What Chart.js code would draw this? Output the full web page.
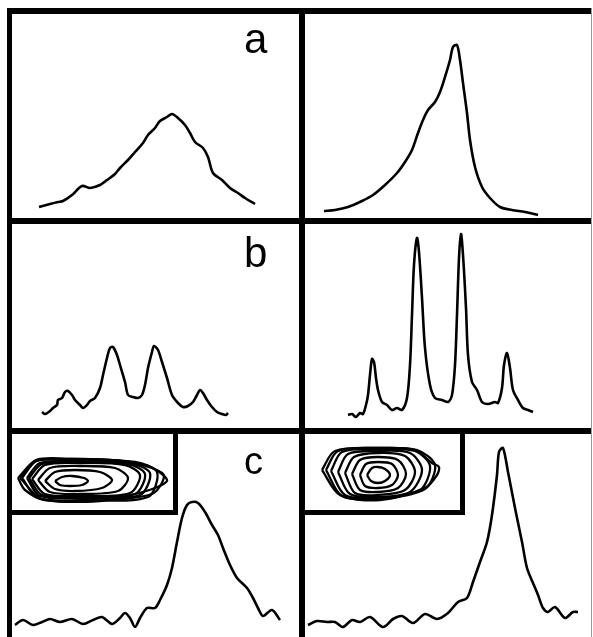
<!DOCTYPE html>
<html>
<head>
<meta charset="utf-8">
<script src="https://cdn.jsdelivr.net/npm/chart.js@4.4.0/dist/chart.umd.min.js"></script>
<style>
  html, body { margin: 0; padding: 0; background: #fff; }
  #fig { position: relative; width: 593px; height: 637px; overflow: hidden; }
  .panel { position: absolute; }
  .bar { position: absolute; background: #000; }
  .inset { position: absolute; background: #fff; }
  .label { position: absolute; font-family: "Liberation Sans", Arial, Helvetica, sans-serif; font-size: 42px; line-height: 1; color: #000; }
</style>
</head>
<body>
<div id="fig"></div>
<script>
// traces, [channel, counts] (counts above panel floor)
const traceA1 = [[27,11],[38,14],[46,16],[51,17],[60,23],[70,32],[78,30],[88,33],[95,38],[103,44],[108,50],[116,58],[123,66],[131,75],[136,83],[143,90],[148,97],[155,101],[160,104],[166,100],[173,93],[178,85],[183,76],[191,70],[196,61],[201,45],[210,38],[218,30],[226,25],[233,20],[243,14]];
const traceA2 = [[19,7],[30,8],[43,11],[57,17],[68,23],[80,33],[92,45],[100,56],[107,68],[113,85],[118,98],[123,108],[130,116],[135,126],[140,141],[145,158],[148,171],[152,173],[155,158],[158,135],[162,105],[165,78],[170,51],[177,31],[185,20],[195,11],[207,8],[220,6],[233,3]];
const traceB1 = [[30,16],[33,14],[38,17],[41,20],[45,23],[46,28],[50,30],[53,36],[56,37],[60,33],[63,28],[68,23],[71,20],[75,23],[78,27],[83,30],[88,40],[91,53],[95,70],[98,80],[101,81],[105,73],[108,63],[113,46],[116,33],[121,31],[126,30],[130,33],[133,43],[136,60],[140,76],[142,82],[146,78],[150,66],[155,50],[160,33],[166,25],[171,21],[176,22],[181,26],[185,33],[188,38],[191,35],[195,28],[200,21],[205,16],[210,14],[214,13],[216,15]];
const traceB2 = [[43,13],[47,14],[51,11],[55,15],[58,14],[61,23],[63,33],[65,53],[67,69],[69,66],[71,50],[73,38],[77,26],[82,23],[87,18],[92,20],[97,18],[102,30],[105,63],[107,113],[109,163],[112,190],[114,176],[117,130],[120,80],[125,43],[130,30],[137,28],[143,26],[147,33],[150,63],[152,113],[154,170],[156,194],[158,173],[161,120],[163,73],[167,46],[172,38],[177,26],[183,24],[190,26],[193,25],[197,40],[199,63],[202,75],[205,60],[208,38],[213,28],[218,20],[223,18],[228,16]];
const traceC1 = [[3,12],[11,17],[21,12],[30,15],[38,18],[48,15],[60,18],[71,13],[81,17],[90,20],[100,13],[108,19],[113,24],[118,19],[123,10],[128,19],[135,29],[143,29],[148,37],[155,52],[160,69],[165,95],[170,119],[175,132],[180,135],[186,134],[193,125],[200,112],[206,102],[211,89],[218,72],[225,59],[235,49],[241,39],[246,29],[251,21],[260,27],[268,17]];
const traceC2 = [[3,12],[12,16],[22,15],[30,15],[38,10],[47,17],[55,15],[65,20],[78,10],[88,18],[97,21],[108,14],[120,23],[132,18],[143,24],[153,35],[162,39],[168,55],[175,75],[182,95],[187,122],[192,162],[194,185],[198,189],[203,165],[210,129],[217,95],[222,69],[228,54],[233,42],[238,29],[243,25],[250,30],[260,19],[268,25],[273,25]];

// contour rings for the insets (inner -> outer)
const contoursC1 = [
  [[43,29],[50,33],[60,34],[72,32],[76,29],[70,25],[58,24],[48,25],[43,29]],
  [[33,29],[43,38],[63,40],[88,38],[100,30],[90,22],[63,19],[43,21],[33,29]],
  [[26,30],[38,42],[68,44],[103,42],[116,32],[106,19],[68,16],[38,18],[26,30]],
  [[20,31],[33,45],[68,47],[113,45],[128,35],[118,17],[73,14],[33,16],[20,31]],
  [[17,32],[30,46],[68,48],[116,46],[133,36],[123,16],[73,13],[30,15],[17,32]],
  [[15,32],[28,47],[68,49],[118,47],[138,37],[128,15],[73,12],[28,14],[15,32]],
  [[10,32],[25,49],[68,50],[123,48],[145,38],[136,13],[73,10],[26,12],[10,32]],
  [[8,32],[24,50],[60,51],[110,49],[140,42],[152,34],[140,16],[80,9],[30,11],[8,32]],
  [[6,32],[23,49],[48,51],[98,50],[133,45],[150,36],[155,29],[143,22],[123,16],[88,9],[33,10],[13,20],[6,32]]
];
const contoursC2 = [
  [[62,35],[67,42],[73,43],[80,41],[85,35],[80,29],[73,27],[66,29],[62,35]],
  [[55,35],[61,46],[73,48],[87,46],[93,35],[87,25],[73,22],[60,24],[55,35]],
  [[47,36],[55,50],[73,53],[93,50],[101,36],[93,22],[73,18],[55,20],[47,36]],
  [[40,37],[49,53],[73,57],[100,54],[110,38],[100,20],[73,15],[50,17],[40,37]],
  [[33,38],[43,56],[73,59],[105,57],[117,40],[105,18],[73,13],[45,16],[33,38]],
  [[26,39],[37,58],[73,61],[110,59],[125,44],[115,20],[73,12],[40,15],[26,39]],
  [[21,40],[33,59],[73,62],[112,60],[130,45],[120,21],[74,11],[37,14],[21,40]],
  [[17,40],[30,59],[73,62],[110,60],[127,47],[134,43],[132,35],[120,22],[75,10],[35,15],[17,40]]
];

const rowLabels = ["a", "b", "c"];
const labelOffsets = [4, 8, 8];

const fig = document.getElementById("fig");

function addBox(cls, left, top, w, h) {
  const d = document.createElement("div");
  d.className = cls;
  d.style.left = left + "px";
  d.style.top = top + "px";
  d.style.width = w + "px";
  d.style.height = h + "px";
  fig.appendChild(d);
  return d;
}

function makeChart(box, series, xmax, ymax, width) {
  const canvas = document.createElement("canvas");
  box.appendChild(canvas);
  const datasets = series.map((pts) => ({
    data: pts.map((p) => ({ x: p[0], y: p[1] })),
    borderColor: "#000",
    borderWidth: width,
    pointRadius: 0,
    tension: 0.3,
    fill: false,
  }));
  return new Chart(canvas, {
    type: "scatter",
    data: { datasets: datasets },
    options: {
      responsive: true,
      maintainAspectRatio: false,
      animation: false,
      showLine: true,
      layout: { padding: 0 },
      plugins: { legend: { display: false }, tooltip: { enabled: false } },
      scales: {
        x: { type: "linear", display: false, min: 0, max: xmax },
        y: { type: "linear", display: false, min: 0, max: ymax },
      },
    },
  });
}

// panel grid
const cols = [{ left: 12, w: 287 }, { left: 305, w: 286 }];
const rows = [{ top: 14, h: 204 }, { top: 224, h: 204 }, { top: 434, h: 203 }];
const traces = [[traceA1, traceA2], [traceB1, traceB2], [traceC1, traceC2]];

rows.forEach((r, i) => {
  cols.forEach((c, j) => {
    const box = addBox("panel", c.left, r.top, c.w, r.h);
    makeChart(box, [traces[i][j]], c.w, r.h, 2.6);
  });
});

// insets with contours (row c)
const insets = [
  { left: 12, w: 161, rings: contoursC1 },
  { left: 305, w: 155, rings: contoursC2 },
];
insets.forEach((ins) => {
  const box = addBox("inset", ins.left, 434, ins.w, 76);
  makeChart(box, ins.rings, ins.w, 76, 2.3);
  addBox("bar", ins.left + ins.w, 434, 5, 81);
  addBox("bar", ins.left - 5, 510, ins.w + 10, 5);
});

// frame lines
addBox("bar", 7, 8, 584, 6);
addBox("bar", 7, 218, 584, 6);
addBox("bar", 7, 428, 584, 6);
addBox("bar", 7, 8, 5, 629);
addBox("bar", 299, 8, 6, 629);
const edge = addBox("bar", 591, 8, 1, 629);
edge.style.background = "#999";

// row letters
rowLabels.forEach((t, i) => {
  const l = document.createElement("div");
  l.className = "label";
  l.textContent = t;
  l.style.left = "244px";
  l.style.top = rows[i].top + labelOffsets[i] + "px";
  if (t === "c") l.style.fontSize = "38px";
  fig.appendChild(l);
});
</script>
</body>
</html>
